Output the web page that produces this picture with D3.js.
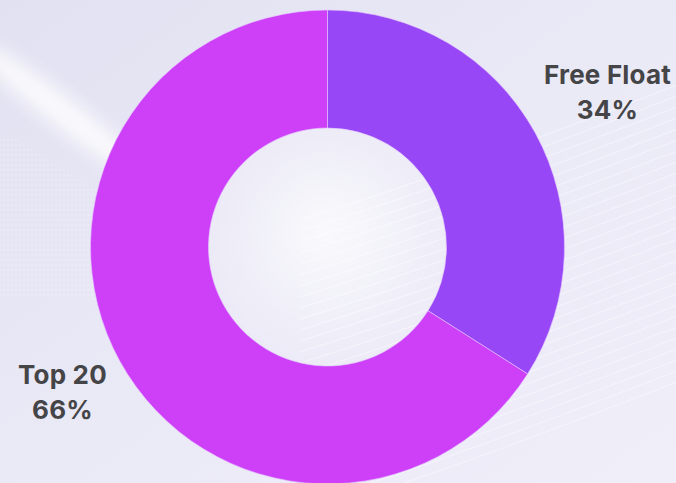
<!DOCTYPE html>
<html>
<head>
<meta charset="utf-8">
<script src="https://cdn.jsdelivr.net/npm/d3@7"></script>
<style>
  html, body { margin: 0; padding: 0; overflow: hidden; }
  body { width: 676px; height: 483px; }
</style>
</head>
<body>
<div class="vis-container"></div>
<script>
// Chart data
const categories = ['Free Float', 'Top 20'];
const shares = [34, 66];
const colors = ['#9747f5', '#cd40f8'];

const width = 676;
const height = 483;
const cx = 327.5;
const cy = 247;
const outerR = 237;
const innerR = 119;
const labelR = 311;

const svg = d3
  .select('.vis-container')
  .append('svg')
  .attr('width', width)
  .attr('height', height);

// Soft lavender background
const defs = svg.append('defs');
const bg = defs
  .append('linearGradient')
  .attr('id', 'bg')
  .attr('x1', '0%')
  .attr('y1', '0%')
  .attr('x2', '100%')
  .attr('y2', '100%');
bg.append('stop').attr('offset', '0%').attr('stop-color', '#e2e1f1');
bg.append('stop').attr('offset', '50%').attr('stop-color', '#eae9f6');
bg.append('stop').attr('offset', '100%').attr('stop-color', '#efeef9');

const glow = defs.append('radialGradient').attr('id', 'glow');
glow.append('stop').attr('offset', '0%').attr('stop-color', '#ffffff').attr('stop-opacity', 0.75);
glow.append('stop').attr('offset', '100%').attr('stop-color', '#ffffff').attr('stop-opacity', 0);

defs
  .append('filter')
  .attr('id', 'blur')
  .attr('x', '-50%')
  .attr('y', '-50%')
  .attr('width', '200%')
  .attr('height', '200%')
  .append('feGaussianBlur')
  .attr('stdDeviation', 9);

svg.append('rect').attr('width', width).attr('height', height).attr('fill', 'url(#bg)');

// white light streak in the upper left
svg
  .append('ellipse')
  .attr('cx', 60)
  .attr('cy', 110)
  .attr('rx', 110)
  .attr('ry', 14)
  .attr('transform', 'rotate(38 60 110)')
  .attr('fill', '#ffffff')
  .attr('opacity', 0.85)
  .attr('filter', 'url(#blur)');

// dotted texture on the left
const dots = svg.append('g').attr('fill', '#ffffff').attr('opacity', 0.45);
d3.range(0, 100, 4).forEach((x) => {
  d3.range(140, 300, 5).forEach((y) => {
    if (y - 140 > x * 0.6 - 10) dots.append('circle').attr('cx', x).attr('cy', y).attr('r', 0.7);
  });
});

// light in the centre of the hole
svg
  .append('circle')
  .attr('cx', cx)
  .attr('cy', cy - 15)
  .attr('r', 140)
  .attr('fill', 'url(#glow)');

// faint wave lines on the right side
const waves = svg.append('g').attr('fill', 'none').attr('stroke', '#ffffff').attr('stroke-opacity', 0.6);
d3.range(28).forEach((i) => {
  const y0 = 150 + i * 11;
  waves
    .append('path')
    .attr('stroke-width', 0.8)
    .attr('d', `M 300 ${y0 + 70} C 430 ${y0 + 30}, 560 ${y0 - 20}, 690 ${y0 - 70}`);
});

const pie = d3
  .pie()
  .sort(null)
  .value((d) => d);

const arcs = pie(shares);

const arc = d3.arc().innerRadius(innerR).outerRadius(outerR);
const labelArc = d3.arc().innerRadius(labelR).outerRadius(labelR);

const group = svg.append('g').attr('transform', `translate(${cx},${cy})`);

group
  .selectAll('path.slice')
  .data(arcs)
  .join('path')
  .attr('class', 'slice')
  .attr('fill', (d, i) => colors[i])
  .attr('stroke', '#e6c8ff')
  .attr('stroke-width', 0.6)
  .attr('d', arc);

// Labels
const label = group
  .selectAll('g.label')
  .data(arcs)
  .join('g')
  .attr('class', 'label')
  .attr('transform', (d) => {
    const [x, y] = labelArc.centroid(d);
    return `translate(${x + 7.5},${y})`;
  })
  .attr('font-family', 'Inter, sans-serif')
  .attr('font-weight', 700)
  .attr('font-size', 26)
  .attr('letter-spacing', 0.2)
  .attr('fill', '#454548')
  .attr('text-anchor', 'middle');

label
  .append('text')
  .attr('y', -13)
  .text((d, i) => categories[i]);

label
  .append('text')
  .attr('y', 22)
  .text((d) => d.data + '%');
</script>
</body>
</html>
